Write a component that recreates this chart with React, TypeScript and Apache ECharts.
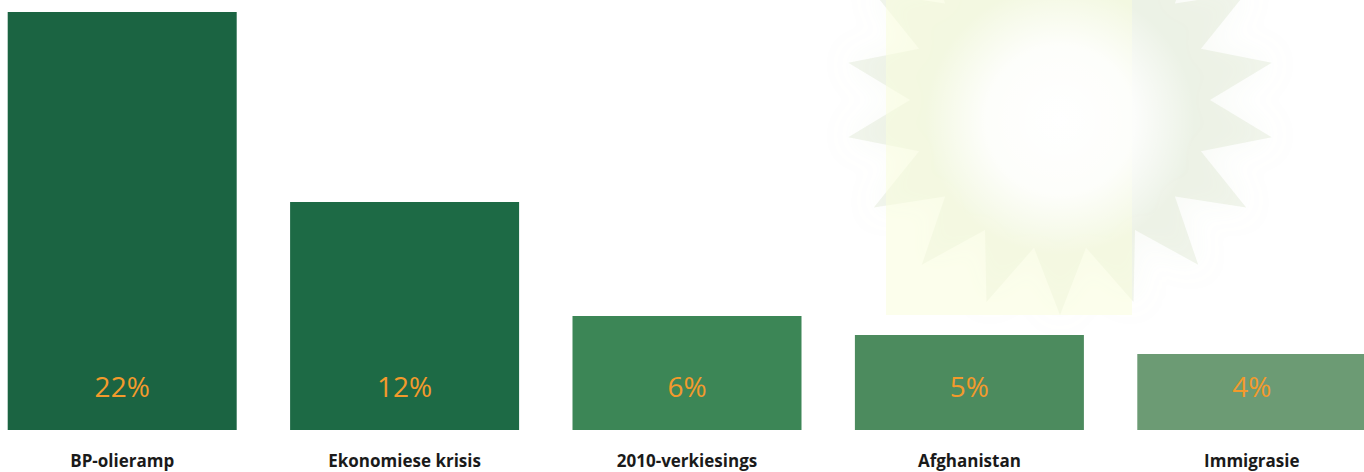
import React, { useEffect, useRef } from "react";
import * as echarts from "echarts";

const categories = ["BP-olieramp", "Ekonomiese krisis", "2010-verkiesings", "Afghanistan", "Immigrasie"];
const values = [22, 12, 6, 5, 4];
const barColors = ["#1b6442", "#1d6a45", "#3c8656", "#4c8b5e", "#6c9b74"];

const SHIFT = 19;

function starPoints(cx: number, cy: number, rOut: number, rIn: number, n: number) {
  const pts: number[][] = [];
  for (let i = 0; i < n * 2; i++) {
    const a = (Math.PI * i) / n - Math.PI / 2;
    const r = i % 2 === 0 ? rOut : rIn;
    pts.push([cx + r * Math.cos(a), cy + r * Math.sin(a)]);
  }
  return pts;
}

export default function App() {
  const ref = useRef<HTMLDivElement>(null);
  useEffect(() => {
    if (!ref.current) return;
    const chart = echarts.init(ref.current, null, { renderer: "svg" });
    chart.setOption({
      animation: false,
      backgroundColor: "#ffffff",
      graphic: [
        {
          type: "polygon",
          z: -10,
          silent: true,
          shape: { points: starPoints(1060 + SHIFT, 100, 215, 150, 18) },
          style: { fill: "rgba(200,215,180,0.26)", shadowBlur: 30, shadowColor: "rgba(205,218,185,0.5)" },
        },
        {
          type: "rect",
          z: -9,
          silent: true,
          shape: { x: 886 + SHIFT, y: 0, width: 246, height: 315 },
          style: { fill: "rgba(250,254,220,0.55)" },
        },
        {
          type: "circle",
          z: -8,
          silent: true,
          shape: { cx: 1060 + SHIFT, cy: 120, r: 135 },
          style: {
            fill: {
              type: "radial",
              x: 0.5,
              y: 0.5,
              r: 0.5,
              colorStops: [
                { offset: 0, color: "rgba(255,255,255,1)" },
                { offset: 0.55, color: "rgba(255,255,255,0.85)" },
                { offset: 1, color: "rgba(255,255,255,0)" },
              ],
            },
          },
        },
      ],
      grid: { left: 0, right: 0, top: 0, bottom: 42, containLabel: false },
      xAxis: {
        type: "category",
        data: categories,
        axisLine: { show: false },
        axisTick: { show: false },
        axisLabel: {
          margin: 22,
          fontFamily: "Open Sans",
          fontWeight: "bold",
          fontSize: 17,
          color: "#1a1a1a",
        },
      },
      yAxis: {
        type: "value",
        min: 0,
        max: 22.63,
        show: false,
        splitLine: { show: false },
      },
      series: [
        {
          type: "bar",
          barWidth: 229,
          data: values.map((v, i) => ({ value: v, itemStyle: { color: barColors[i] } })),
          label: {
            show: true,
            position: "insideBottom",
            distance: 30,
            formatter: "{c}%",
            fontFamily: "Open Sans",
            fontSize: 28,
            color: "#f39a2c",
          },
        },
      ],
    });
    return () => chart.dispose();
  }, []);
  return (
    <div
      ref={ref}
      style={{ position: "fixed", left: -SHIFT, top: 0, width: 1364 + 2 * SHIFT + 10, height: 472 }}
    />
  );
}
